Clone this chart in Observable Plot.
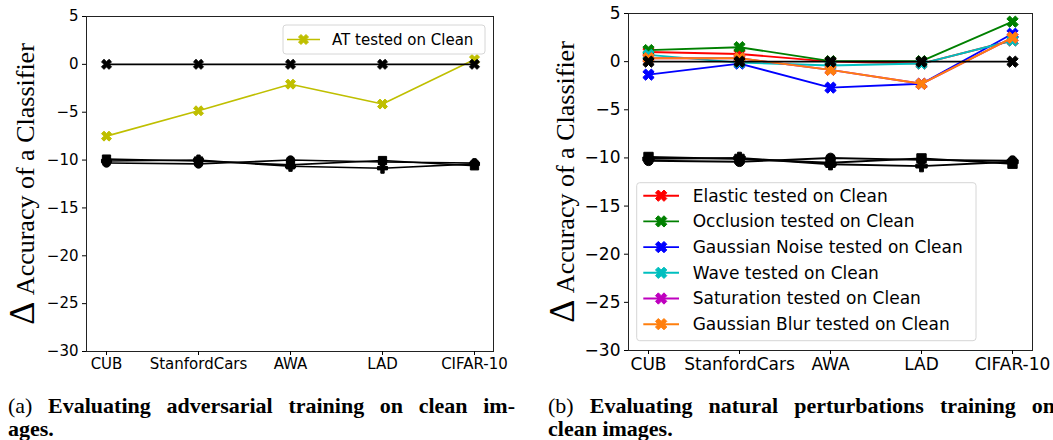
<!DOCTYPE html>
<html><head><meta charset="utf-8">
<script src="https://cdn.jsdelivr.net/npm/d3@7"></script>
<script src="https://cdn.jsdelivr.net/npm/@observablehq/plot@0.6"></script>
<style>
body{margin:0;background:#fff;width:1053px;height:440px;overflow:hidden;position:relative;}
#a{position:absolute;left:0;top:0;}
#b{position:absolute;left:527px;top:0;}
.cap{position:absolute;font-family:"Liberation Serif","Times New Roman",serif;font-size:22px;line-height:23px;color:#000;font-weight:bold;white-space:nowrap;}
.cap .l1{text-align:justify;text-align-last:justify;}
.cap span.n{font-weight:normal;}
</style></head><body>
<div id="a"></div><div id="b"></div>
<div class="cap" style="left:8px;top:394px;width:507px;"><div class="l1"><span class="n">(a)</span> Evaluating adversarial training on clean im-</div><div>ages.</div></div>
<div class="cap" style="left:548px;top:394px;width:507px;"><div class="l1"><span class="n">(b)</span> Evaluating natural perturbations training on</div><div>clean images.</div></div>
<script>
// ---- data ----
const datasets = ["CUB", "StanfordCars", "AWA", "LAD", "CIFAR-10"];
const yTicks = [5, 0, -5, -10, -15, -20, -25, -30];

// panel (a)
const atClean = [-7.5, -4.85, -2.07, -4.15, 0.5];
// shared black reference series
const zeroRef = [0, 0, 0, 0, 0];
const refSquare = [-9.9, -10.1, -10.5, -10.05, -10.6];
const refCircle = [-10.3, -10.4, -10.0, -10.2, -10.3];
const refPlus = [-10.1, -10.0, -10.65, -10.85, -10.4];

// panel (b)
const elasticClean = [1.0, 0.8, 0.0, -0.2, 2.2];
const occlusionClean = [1.2, 1.5, 0.05, 0.05, 4.15];
const noiseClean = [-1.35, -0.2, -2.7, -2.3, 2.9];
const waveClean = [0.7, -0.1, -0.4, -0.2, 2.2];
const saturationClean = [0.35, 0.35, -0.85, -2.3, 2.5];
const blurClean = [0.35, 0.35, -0.85, -2.3, 2.5];

const labelsB = ["Elastic tested on Clean", "Occlusion tested on Clean", "Gaussian Noise tested on Clean",
  "Wave tested on Clean", "Saturation tested on Clean", "Gaussian Blur tested on Clean"];
const colorsB = ["#ff0000", "#008000", "#0000ff", "#00bfbf", "#bf00bf", "#ff7f0e"];

// ---- symbols ----
function poly(pts) {
  return {draw(ctx, size) {
    const r = Math.sqrt(size / Math.PI);
    pts.forEach(([x, y], i) => i ? ctx.lineTo(x * r, y * r) : ctx.moveTo(x * r, y * r));
    ctx.closePath();
  }};
}
const plusPts = [[-1,-3],[-1,-1],[-3,-1],[-3,1],[-1,1],[-1,3],[1,3],[1,1],[3,1],[3,-1],[1,-1],[1,-3]].map(([x,y]) => [x/3, y/3]);
const xPts = plusPts.map(([x, y]) => [(x - y) / Math.SQRT2, (x + y) / Math.SQRT2]);
const symX = poly(xPts), symP = poly(plusPts), symS = poly([[-1,-1],[1,-1],[1,1],[-1,1]]);

const fmtY = d => d < 0 ? "\u2212" + Math.abs(d) : String(d);
function rows(vals) { return datasets.map((d, i) => ({x: d, y: vals[i]})); }

function panel(cfg) {
  const marks = [];
  const add = (vals, color, sym, r, sw) => {
    const data = rows(vals);
    marks.push(Plot.line(data, {x: "x", y: "y", stroke: color, strokeWidth: sw}));
    marks.push(Plot.dot(data, {x: "x", y: "y", symbol: sym, r, fill: color, stroke: color, strokeWidth: 1}));
  };
  cfg.series.forEach(s => add(s.vals, s.color, symX, cfg.r, cfg.sw));
  add(zeroRef, "#000", symX, cfg.r, cfg.sw);
  add(refSquare, "#000", symS, cfg.r * 0.78, cfg.sw);
  add(refPlus, "#000", symP, cfg.r * 0.95, cfg.sw);
  add(refCircle, "#000", "circle", cfg.r * 0.8, cfg.sw);
  marks.push(Plot.frame({stroke: "#222", strokeWidth: 1}));
  marks.push(Plot.axisX({tickSize: 4, tickPadding: 3, label: null, stroke: "#000"}));
  marks.push(Plot.axisY({ticks: yTicks, tickFormat: fmtY, tickSize: 4, tickPadding: 4, label: null, stroke: "#000"}));
  marks.push(Plot.text(["Δ Accuracy of a Classifier"], {frameAnchor: "left", dx: cfg.labelDx, rotate: -90,
    textAnchor: "middle", lineAnchor: "middle",
    text: d => d, fontFamily: "Liberation Serif", fontSize: 26, fill: "#000"}));
  const svg = Plot.plot({
    width: cfg.width, height: 380,
    marginLeft: cfg.ml, marginRight: cfg.mr, marginTop: cfg.mt, marginBottom: cfg.mb,
    style: {fontFamily: "DejaVu Sans", fontSize: cfg.fs + "px", color: "#000", background: "transparent", overflow: "visible"},
    x: {type: "point", domain: datasets, padding: 0.2},
    y: {domain: [-30, 5]},
    marks
  });
  // enlarge the Δ of the axis title
  d3.select(svg).selectAll("text").filter(function() { return this.textContent === "Δ Accuracy of a Classifier"; })
    .each(function() {
      const t = d3.select(this);
      t.text(null);
      t.append("tspan").attr("font-size", 36).text("Δ");
      t.append("tspan").text(" Accuracy of a Classifier");
    });
  // legend
  const g = d3.select(svg).append("g");
  const L = cfg.legend;
  g.append("rect").attr("x", L.x).attr("y", L.y).attr("width", L.w).attr("height", L.h).attr("rx", 3)
    .attr("fill", "rgba(255,255,255,0.8)").attr("stroke", "#d6d6d6");
  L.items.forEach((it, i) => {
    const cy = L.y0 + i * L.dy;
    g.append("line").attr("x1", L.lx1).attr("x2", L.lx2).attr("y1", cy).attr("y2", cy)
      .attr("stroke", it.color).attr("stroke-width", cfg.sw);
    const p = d3.path(); symX.draw(p, cfg.r * cfg.r * Math.PI);
    g.append("path").attr("d", p.toString()).attr("fill", it.color).attr("stroke", it.color)
      .attr("transform", `translate(${(L.lx1 + L.lx2) / 2},${cy})`);
    g.append("text").attr("x", L.tx).attr("y", cy).attr("dy", "0.35em").attr("fill", "#000")
      .attr("text-anchor", "start")
      .attr("font-family", "DejaVu Sans").attr("font-size", cfg.fs).text(it.label);
  });
  return svg;
}

document.getElementById("a").append(panel({
  width: 527, ml: 86, mr: 34, mt: 16, mb: 29, fs: 15, r: 5.3, sw: 1.6, labelDx: -61,
  series: [{vals: atClean, color: "#bfbf00"}],
  legend: {x: 283, y: 25, w: 202, h: 29, y0: 39.5, dy: 0, lx1: 287, lx2: 320, tx: 332,
    items: [{label: "AT tested on Clean", color: "#bfbf00"}]}
}));

const seriesB = [elasticClean, occlusionClean, noiseClean, waveClean, saturationClean, blurClean]
  .map((vals, i) => ({vals, color: colorsB[i]}));
document.getElementById("b").append(panel({
  width: 526, ml: 101, mr: 21, mt: 13, mb: 30, fs: 17, r: 6, sw: 1.9, labelDx: -63,
  series: seriesB,
  legend: {x: 109.7, y: 182.7, w: 339.3, h: 158, y0: 195.7, dy: 25.7, lx1: 116.3, lx2: 152, tx: 165.7,
    items: labelsB.map((label, i) => ({label, color: colorsB[i]}))}
}));
</script>
</body></html>
